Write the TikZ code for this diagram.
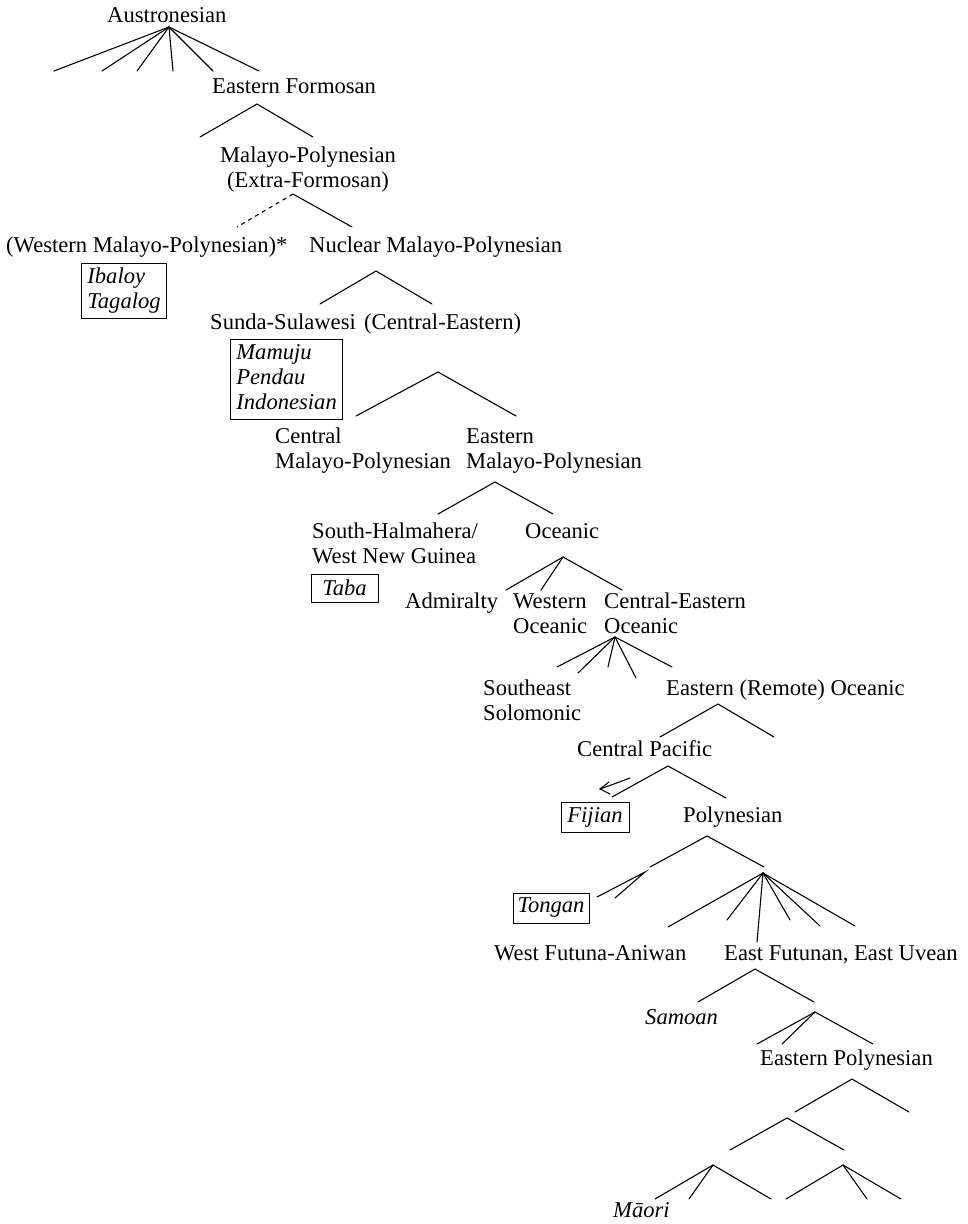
\documentclass[tikz,border=0pt]{standalone}
\usepackage{fontspec}
\setmainfont{Liberation Serif}
\newcommand{\labfont}{\fontsize{22.6}{25}\selectfont}
\newcommand{\twol}[2]{\begin{tabular}[t]{@{}l@{}}#1\\#2\end{tabular}}
\begin{document}
\begin{tikzpicture}[x=1pt,y=-1pt,
  lab/.style={anchor=base west, inner sep=0pt, font=\labfont},
  labc/.style={anchor=base, inner sep=0pt, font=\labfont},
  boxed/.style={draw, line width=0.8pt, inner xsep=6pt, inner ysep=2.5pt, font=\labfont\itshape},
  sbox/.style={boxed, inner xsep=0pt, inner ysep=0pt, text height=15pt, text depth=5pt},
  branch/.style={line width=1.1pt, line cap=round},
  dashbranch/.style={line width=1.1pt, dash pattern=on 4pt off 4pt}]
\useasboundingbox (0,0) rectangle (968,1224);

% ---- labels ----
\node[lab] (aus) at (107,22) {Austronesian};
\node[lab] (ef) at (212,93) {Eastern Formosan};
\node[labc] (mp) at (308,162) {\begin{tabular}[t]{@{}c@{}}Malayo-Polynesian\\(Extra-Formosan)\end{tabular}};
\node[lab] (wmp) at (6,252) {(Western Malayo-Polynesian)*};
\node[lab] (nmp) at (309,252) {Nuclear Malayo-Polynesian};
\node[boxed, anchor=base west] (ib) at (81,283) {\twol{Ibaloy}{Tagalog}};
\node[lab] (ss) at (210,329) {Sunda-Sulawesi};
\node[lab] (ce) at (364,329) {(Central-Eastern)};
\node[boxed, anchor=base west] (mam) at (230,359) {\begin{tabular}[t]{@{}l@{}}Mamuju\\Pendau\\Indonesian\end{tabular}};
\node[lab] (cmp) at (275,443) {\twol{Central}{Malayo-Polynesian}};
\node[lab] (emp) at (466,443) {\twol{Eastern}{Malayo-Polynesian}};
\node[lab] (shw) at (312,538) {\twol{South-Halmahera/}{West New Guinea}};
\node[lab] (oc) at (525,538) {Oceanic};
\node[sbox, minimum width=67pt, minimum height=28pt, text height=17pt, text depth=3pt] (taba) at (344.5,588) {Taba};
\node[lab] (adm) at (405,608) {Admiralty};
\node[lab] (woc) at (513,608) {\twol{Western}{Oceanic}};
\node[lab] (ceo) at (604,608) {\twol{Central-Eastern}{Oceanic}};
\node[lab] (ses) at (483,695) {\twol{Southeast}{Solomonic}};
\node[lab] (ero) at (666,695) {Eastern (Remote) Oceanic};
\node[lab] (cp) at (577,756) {Central Pacific};
\node[sbox, minimum width=68pt, minimum height=30pt] (fij) at (595,817) {Fijian};
\node[lab] (pol) at (683,822) {Polynesian};
\node[sbox, minimum width=76pt, minimum height=30pt, text depth=6pt] (ton) at (551,908) {Tongan};
\node[lab] (wfa) at (494,960) {West Futuna-Aniwan};
\node[lab] (efu) at (724,960) {East Futunan, East Uvean};
\node[lab, font=\labfont\itshape] (sam) at (645,1024) {Samoan};
\node[lab] (ep) at (760,1065) {Eastern Polynesian};
\node[lab, font=\labfont\itshape] (mao) at (613,1217) {Māori};

% ---- branching points ----
\coordinate (aus-t) at (169,27);
\foreach \x [count=\i] in {54,102,137,173,213,259} \coordinate (aus-\i) at (\x,71);
\foreach \i in {1,...,6} \draw[branch] (aus-t) -- (aus-\i);

\coordinate (ef-t) at (257,104);
\coordinate (ef-1) at (200,137);
\coordinate (ef-2) at (313,137);
\draw[branch] (ef-1) -- (ef-t) -- (ef-2);

\coordinate (mp-t) at (293,194);
\coordinate (mp-1) at (237,227);
\coordinate (mp-2) at (352,227);
\draw[dashbranch] (mp-t) -- (mp-1);
\draw[branch] (mp-t) -- (mp-2);

\coordinate (nmp-t) at (376,271);
\coordinate (nmp-1) at (320,304);
\coordinate (nmp-2) at (432,304);
\draw[branch] (nmp-1) -- (nmp-t) -- (nmp-2);

\coordinate (ce-t) at (438,372);
\coordinate (ce-1) at (356,416);
\coordinate (ce-2) at (516,416);
\draw[branch] (ce-1) -- (ce-t) -- (ce-2);

\coordinate (emp-t) at (495,482);
\coordinate (emp-1) at (438,514);
\coordinate (emp-2) at (553,514);
\draw[branch] (emp-1) -- (emp-t) -- (emp-2);

\coordinate (oc-t) at (563,557);
\coordinate (oc-1) at (506,590);
\coordinate (oc-2) at (541,590);
\coordinate (oc-3) at (622,590);
\foreach \i in {1,2,3} \draw[branch] (oc-t) -- (oc-\i);

\coordinate (ceo-t) at (615,637);
\coordinate (ceo-1) at (557,667);
\coordinate (ceo-2) at (578,673);
\coordinate (ceo-3) at (608,667);
\coordinate (ceo-4) at (636,678);
\coordinate (ceo-5) at (672,667);
\foreach \i in {1,...,5} \draw[branch] (ceo-t) -- (ceo-\i);

\coordinate (ero-t) at (718,704);
\coordinate (ero-1) at (660,737);
\coordinate (ero-2) at (774,737);
\draw[branch] (ero-1) -- (ero-t) -- (ero-2);

\coordinate (cp-t) at (668,766);
\coordinate (cp-1) at (612,797);
\coordinate (cp-2) at (726,798);
\draw[branch] (cp-1) -- (cp-t) -- (cp-2);
\coordinate (fa-s) at (630,778);
\coordinate (fa-0) at (600,789);
\coordinate (fa-u) at (609,782);
\coordinate (fa-l) at (610,794);
\draw[branch] (fa-s) .. controls (614,784) .. (fa-0);
\draw[branch] (fa-u) -- (fa-0) -- (fa-l);

\coordinate (pol-t) at (707,836);
\coordinate (pol-1) at (650,867);
\coordinate (pol-2) at (764,867);
\draw[branch] (pol-1) -- (pol-t) -- (pol-2);
\coordinate (ta-0) at (645,872);
\coordinate (ta-1) at (597,897);
\coordinate (ta-2) at (615,898);
\draw[branch] (ta-1) -- (ta-0) -- (ta-2);

\coordinate (np-t) at (763,873);
\coordinate (np-1) at (668,927);
\coordinate (np-2) at (727,920);
\coordinate (np-3) at (757,942);
\coordinate (np-4) at (790,920);
\coordinate (np-5) at (820,926);
\coordinate (np-6) at (855,926);
\foreach \i in {1,...,6} \draw[branch] (np-t) -- (np-\i);

\coordinate (efu-t) at (755,969);
\coordinate (efu-1) at (698,1002);
\coordinate (efu-2) at (814,1002);
\draw[branch] (efu-1) -- (efu-t) -- (efu-2);

\coordinate (sp-t) at (815,1012);
\coordinate (sp-1) at (757,1044);
\coordinate (sp-2) at (782,1044);
\coordinate (sp-3) at (873,1044);
\foreach \i in {1,2,3} \draw[branch] (sp-t) -- (sp-\i);

\coordinate (ep-t) at (852,1079);
\coordinate (ep-1) at (795,1112);
\coordinate (ep-2) at (909,1112);
\draw[branch] (ep-1) -- (ep-t) -- (ep-2);

\coordinate (cep-t) at (787,1118);
\coordinate (cep-1) at (730,1150);
\coordinate (cep-2) at (844,1150);
\draw[branch] (cep-1) -- (cep-t) -- (cep-2);

\coordinate (m-t) at (713,1165);
\coordinate (m-1) at (655,1199);
\coordinate (m-2) at (689,1199);
\coordinate (m-3) at (771,1199);
\foreach \i in {1,2,3} \draw[branch] (m-t) -- (m-\i);

\coordinate (r-t) at (843,1165);
\coordinate (r-1) at (786,1199);
\coordinate (r-2) at (867,1199);
\coordinate (r-3) at (901,1199);
\foreach \i in {1,2,3} \draw[branch] (r-t) -- (r-\i);
\end{tikzpicture}
\end{document}
